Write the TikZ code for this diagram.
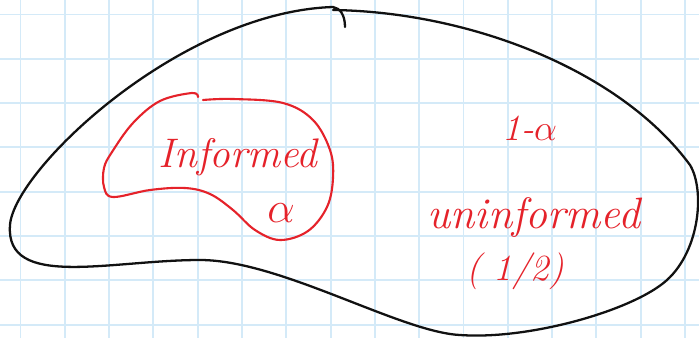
\documentclass[tikz,border=0pt]{standalone}
\usepackage{tikz}
\usetikzlibrary{positioning}
\usepackage{xcolor}
\definecolor{gridblue}{HTML}{D4EAF8}
\definecolor{inkred}{HTML}{E5222A}
\definecolor{inkblack}{HTML}{111111}

\begin{document}
\begin{tikzpicture}[
    x=0.02cm, y=-0.02cm,
    % Estilos
    gridline/.style={
        draw=gridblue,
        line width=1.1pt
    },
    setline/.style={
        draw=inkblack,
        line width=1.3pt,
        line cap=round
    },
    blobline/.style={
        draw=inkred,
        line width=1.2pt,
        line cap=round
    },
    note/.style={
        text=inkred,
        font=\itshape\fontsize{21}{24}\selectfont,
        inner sep=0pt,
        align=center
    }
]

    % ==========================================
    % 0. PAPER & GRID
    % ==========================================
    \fill[white] (0,0) rectangle (699,338);
    \useasboundingbox (0,0) rectangle (699,338);
    \foreach \gx in {0,...,15}
        \draw[gridline] ({20.5+44.3*\gx},0) -- ({20.5+44.3*\gx},338);
    \foreach \gy in {0,...,7}
        \draw[gridline] (0,{14.5+44.3*\gy}) -- (699,{14.5+44.3*\gy});

    % ==========================================
    % 1. WHOLE POPULATION (black curve)
    % ==========================================
    \draw[setline] (333,10)
        .. controls (470,12) and (620,70) .. (690,165)
        .. controls (705,190) and (700,250) .. (667,280)
        .. controls (634,310) and (530,340) .. (460,335)
        .. controls (400,332) and (280,260) .. (200,260)
        .. controls (110,260) and (5,290) .. (10,225)
        .. controls (14,170) and (180,12) .. (333,7)
        .. controls (340,8) and (345,15) .. (345,27);

    % ==========================================
    % 2. INFORMED GROUP (red blob)
    % ==========================================
    \draw[blobline] plot[smooth, tension=0.6] coordinates {
        (203,100) (233,99) (283,103) (313,120) (330,150) (333,178)
        (327,207) (308,231) (280,240) (255,230) (233,210) (210,194)
        (185,188) (150,190) (113,197) (104,187) (104,168) (112,152)
        (133,123) (160,101) (192,93) (198,97)};

    % ==========================================
    % 3. LABELS
    % ==========================================
    \node[note, font=\itshape\fontsize{23.5}{26}\selectfont] (inf) at (238,157) {Informed};
    \node[note, font=\itshape\fontsize{28}{30}\selectfont] (alpha) at (281,213) {$\alpha$};
    \node[note] (rest) at (530,128) {1-$\alpha$};
    \node[note, font=\itshape\fontsize{25}{28}\selectfont] (uninf) at (534,218) {uninformed};
    \node[note] (half) at (515,271) {(~1/2)};

\end{tikzpicture}
\end{document}
